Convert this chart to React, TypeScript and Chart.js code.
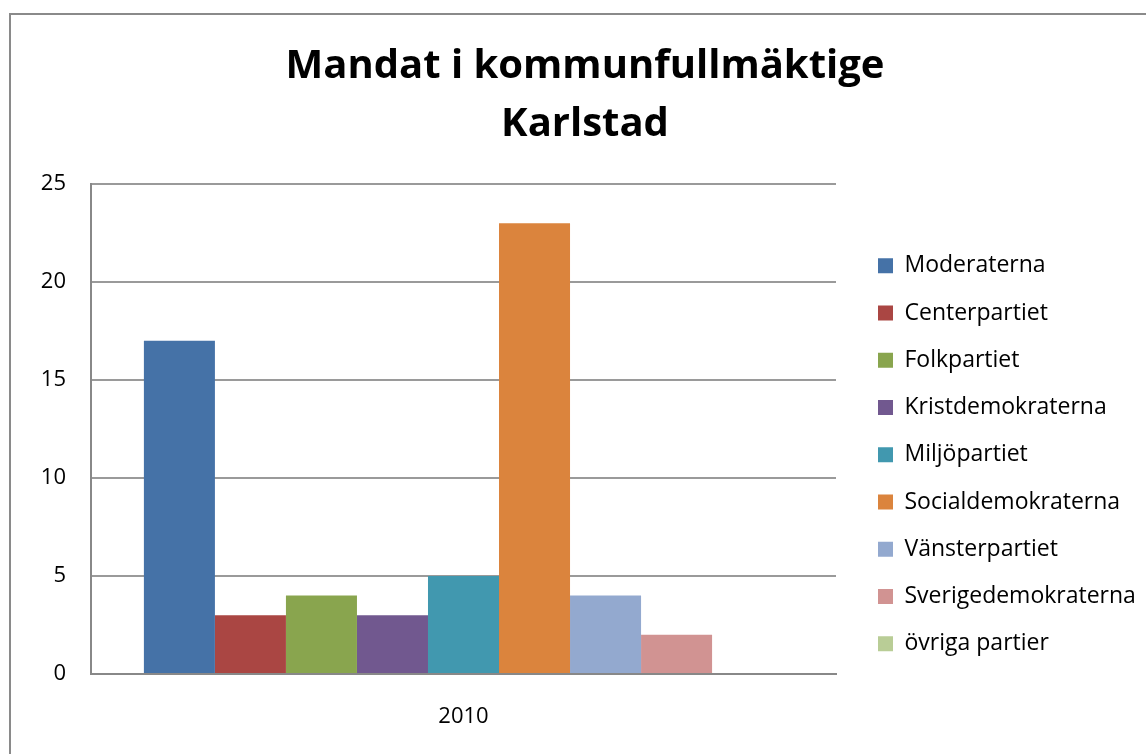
import React, { useEffect, useRef } from "react";
import { Chart, registerables } from "chart.js";

Chart.register(...registerables);

const categories = ["2010"];
const parties = [
  "Moderaterna",
  "Centerpartiet",
  "Folkpartiet",
  "Kristdemokraterna",
  "Miljöpartiet",
  "Socialdemokraterna",
  "Vänsterpartiet",
  "Sverigedemokraterna",
  "övriga partier",
];
const seats = [17, 3, 4, 3, 5, 23, 4, 2, 0];
const partyColors = [
  "#4572A7",
  "#AA4643",
  "#89A54E",
  "#71588F",
  "#4198AF",
  "#DB843D",
  "#93A9CF",
  "#D19392",
  "#B9CD96",
];
const titleLines = ["Mandat i kommunfullmäktige", "Karlstad"];
const yMin = 0;
const yMax = 25;
const yStep = 5;

const W = 1146;
const H = 754;
const FONT = "'Open Sans', 'DejaVu Sans', sans-serif";
const TITLE_FONT = 40;
const LEGEND_FONT = 23;
const LEGEND_PAD = 47.25 - LEGEND_FONT;
const LEGEND_BOX = 15;
const LEGEND_BOX_X = 878;
const LEGEND_BOX_TOP = 258.3;
const AREA_LEFT = 91;
const AREA_RIGHT = 836;
const AREA_BOTTOM = 674;
const PAD_LEFT = 24;

const placementPlugin: any = {
  id: "placement",
  beforeLayout(chart: any) {
    const L = chart.legend;
    if (L && !L.__patched) {
      const orig = L.fit.bind(L);
      L.fit = function () {
        orig();
        this.width = W - AREA_RIGHT;
      };
      L.__patched = true;
    }
  },
  afterLayout(chart: any) {
    const L = chart.legend;
    if (!L || !L.columnSizes || !L.columnSizes[0]) return;
    const colH = L.columnSizes[0].height;
    const cursorY = LEGEND_BOX_TOP - Math.max((LEGEND_FONT - LEGEND_BOX) / 2, 0);
    L.left = LEGEND_BOX_X - LEGEND_PAD;
    L.right = W;
    L.top = 0;
    L.bottom = 2 * cursorY - LEGEND_PAD + colH;
  },
  beforeDraw(chart: any) {
    const ctx = chart.ctx;
    ctx.save();
    ctx.fillStyle = "#ffffff";
    ctx.fillRect(0, 0, W, H);
    ctx.strokeStyle = "#8a8a8a";
    ctx.lineWidth = 2;
    ctx.strokeRect(10, 14, W + 10, H + 10);
    ctx.restore();
  },
};

export default function App() {
  const ref = useRef<HTMLCanvasElement | null>(null);
  useEffect(() => {
    if (!ref.current) return;
    const chart = new Chart(ref.current, {
      type: "bar",
      data: {
        labels: categories,
        datasets: parties.map((p, i) => ({
          label: p,
          data: [seats[i]],
          backgroundColor: partyColors[i],
          borderColor: partyColors[i],
          borderWidth: 0,
          categoryPercentage: 0.858,
          barPercentage: 1,
        })),
      },
      options: {
        responsive: false,
        animation: false,
        layout: { padding: { left: PAD_LEFT, right: 0, top: 0, bottom: 0 } },
        plugins: {
          tooltip: { enabled: false },
          title: {
            display: true,
            text: titleLines,
            color: "#000000",
            font: { family: FONT, size: TITLE_FONT, weight: "bold", lineHeight: 58 / TITLE_FONT },
            padding: { top: 38, bottom: 30 },
          },
          legend: {
            display: true,
            position: "right",
            align: "center",
            labels: {
              color: "#000000",
              font: { family: FONT, size: LEGEND_FONT },
              boxWidth: LEGEND_BOX,
              boxHeight: LEGEND_BOX,
              padding: LEGEND_PAD,
            },
          },
        },
        scales: {
          x: {
            grid: { display: false, drawTicks: false },
            border: { display: true, color: "#888888", width: 2 },
            ticks: {
              color: "#000000",
              font: { family: FONT, size: 22 },
              padding: 30,
            },
            afterFit(scale: any) {
              scale.height = H - AREA_BOTTOM;
            },
          },
          y: {
            min: yMin,
            max: yMax,
            ticks: {
              stepSize: yStep,
              color: "#000000",
              font: { family: FONT, size: 22 },
              padding: 25,
            },
            grid: { color: "#9a9a9a", lineWidth: 2, drawTicks: false },
            border: { display: true, color: "#888888", width: 2 },
            afterFit(scale: any) {
              scale.width = AREA_LEFT - PAD_LEFT;
            },
          },
        },
      },
      plugins: [placementPlugin],
    });
    return () => chart.destroy();
  }, []);
  return (
    <div style={{ position: "fixed", left: 0, top: 0, width: W, height: H, background: "#fff" }}>
      <canvas ref={ref} width={W} height={H} style={{ display: "block" }} />
    </div>
  );
}
